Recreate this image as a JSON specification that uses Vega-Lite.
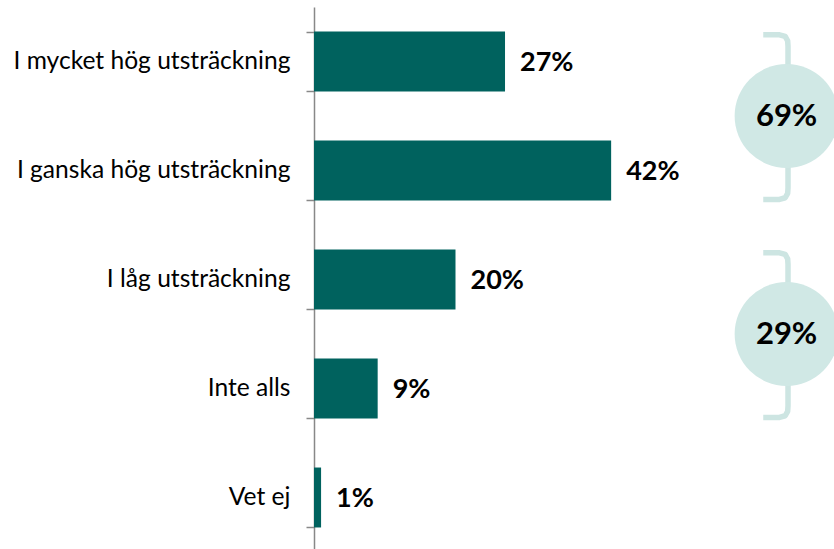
{
  "$schema": "https://vega.github.io/schema/vega-lite/v6.json",
  "autosize": {"type": "none"},
  "padding": {"left": 314, "top": 7, "right": 0, "bottom": 0},
  "width": 520,
  "height": 545,
  "background": "white",
  "config": {"view": {"stroke": null}},
  "datasets": {
    "bars": [
      {"kategori": "I mycket hög utsträckning", "andel": 0.27},
      {"kategori": "I ganska hög utsträckning", "andel": 0.42},
      {"kategori": "I låg utsträckning", "andel": 0.20},
      {"kategori": "Inte alls", "andel": 0.09},
      {"kategori": "Vet ej", "andel": 0.01}
    ],
    "groups": [
      {"grupp": "hög", "summa": 0.69, "x": 0.668, "pos": 1},
      {"grupp": "låg", "summa": 0.29, "x": 0.668, "pos": 3}
    ],
    "brackets": [
      {"grupp": "hög", "ord": 1, "x": 0.635, "pos": 0.255},
      {"grupp": "hög", "ord": 2, "x": 0.658, "pos": 0.255},
      {"grupp": "hög", "ord": 3, "x": 0.666, "pos": 0.27},
      {"grupp": "hög", "ord": 4, "x": 0.6695, "pos": 0.31},
      {"grupp": "hög", "ord": 5, "x": 0.670, "pos": 0.36},
      {"grupp": "hög", "ord": 6, "x": 0.670, "pos": 1.66},
      {"grupp": "hög", "ord": 7, "x": 0.6695, "pos": 1.71},
      {"grupp": "hög", "ord": 8, "x": 0.666, "pos": 1.75},
      {"grupp": "hög", "ord": 9, "x": 0.658, "pos": 1.765},
      {"grupp": "hög", "ord": 10, "x": 0.635, "pos": 1.765},
      {"grupp": "låg", "ord": 1, "x": 0.635, "pos": 2.255},
      {"grupp": "låg", "ord": 2, "x": 0.658, "pos": 2.255},
      {"grupp": "låg", "ord": 3, "x": 0.666, "pos": 2.27},
      {"grupp": "låg", "ord": 4, "x": 0.6695, "pos": 2.31},
      {"grupp": "låg", "ord": 5, "x": 0.670, "pos": 2.36},
      {"grupp": "låg", "ord": 6, "x": 0.670, "pos": 3.66},
      {"grupp": "låg", "ord": 7, "x": 0.6695, "pos": 3.71},
      {"grupp": "låg", "ord": 8, "x": 0.666, "pos": 3.75},
      {"grupp": "låg", "ord": 9, "x": 0.658, "pos": 3.765},
      {"grupp": "låg", "ord": 10, "x": 0.635, "pos": 3.765}
    ]
  },
  "layer": [
    {
      "data": {"name": "bars"},
      "layer": [
        {
          "mark": {"type": "bar", "color": "#00625E"},
          "encoding": {
            "y": {
              "field": "kategori",
              "type": "nominal",
              "sort": null,
              "title": null,
              "scale": {"paddingInner": 0.45, "paddingOuter": 0.225},
              "axis": {
                "tickBand": "extent",
                "domainColor": "#888888",
                "domainWidth": 1.5,
                "tickColor": "#888888",
                "tickWidth": 1.5,
                "tickSize": 8,
                "labelPadding": 16,
                "labelFont": "Lato",
                "labelFontSize": 24.6,
                "labelColor": "#000000",
                "labelLimit": 400
              }
            },
            "x": {
              "field": "andel",
              "type": "quantitative",
              "scale": {"domain": [0, 0.735], "nice": false},
              "axis": null
            }
          }
        },
        {
          "mark": {"type": "text", "align": "left", "baseline": "middle", "dx": 15, "dy": 1, "font": "Lato", "fontWeight": "bold", "fontSize": 27, "color": "#000000"},
          "encoding": {
            "y": {"field": "kategori", "type": "nominal", "sort": null},
            "x": {"field": "andel", "type": "quantitative"},
            "text": {"field": "andel", "type": "quantitative", "format": ".0%"}
          }
        }
      ]
    },
    {
      "layer": [
        {
          "data": {"name": "brackets"},
          "mark": {"type": "line", "color": "#CDE5E2", "strokeWidth": 5.5, "strokeJoin": "round", "strokeCap": "butt"},
          "encoding": {
            "x": {"field": "x", "type": "quantitative"},
            "y": {"field": "pos", "type": "quantitative", "scale": {"domain": [0, 5], "reverse": true, "nice": false, "zero": false}, "axis": null},
            "detail": {"field": "grupp"},
            "order": {"field": "ord"}
          }
        },
        {
          "data": {"name": "groups"},
          "mark": {"type": "point", "filled": true, "shape": "circle", "size": 10800, "color": "#D0E8E5", "opacity": 1},
          "encoding": {
            "x": {"field": "x", "type": "quantitative"},
            "y": {"field": "pos", "type": "quantitative"}
          }
        },
        {
          "data": {"name": "groups"},
          "mark": {"type": "text", "align": "center", "baseline": "middle", "dy": 1, "font": "Lato", "fontWeight": "bold", "fontSize": 31, "color": "#000000"},
          "encoding": {
            "x": {"field": "x", "type": "quantitative"},
            "y": {"field": "pos", "type": "quantitative"},
            "text": {"field": "summa", "type": "quantitative", "format": ".0%"}
          }
        }
      ]
    }
  ],
  "resolve": {"scale": {"y": "independent"}}
}
